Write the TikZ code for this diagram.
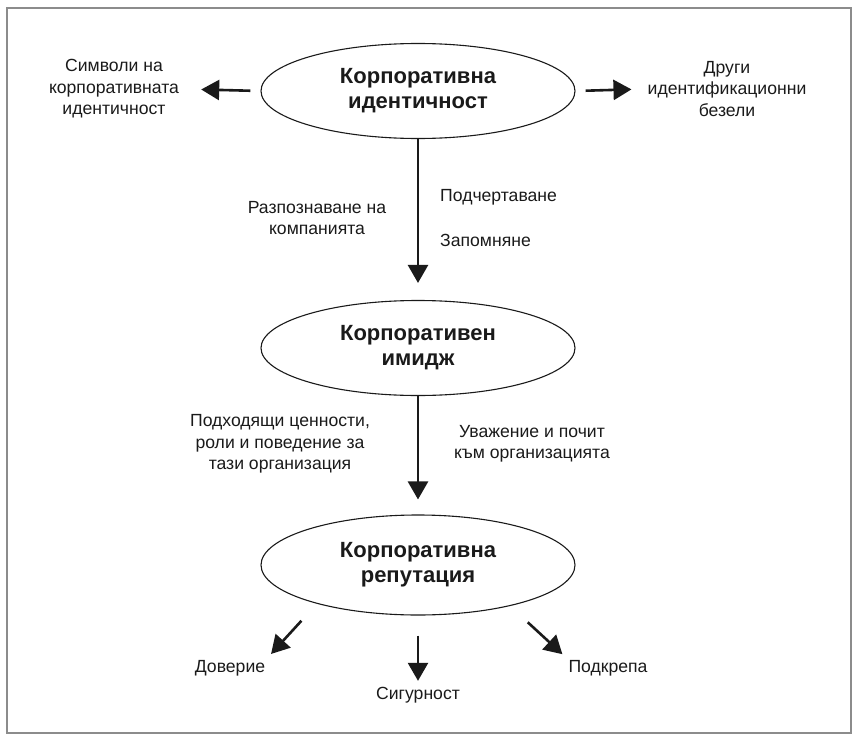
\documentclass[tikz,border=0pt]{standalone}
\usepackage{fontspec}
\setmainfont{Liberation Sans}
\usetikzlibrary{positioning,arrows.meta,shapes.geometric}
\definecolor{InkBlack}{HTML}{1A1A1A}
\definecolor{FrameGray}{HTML}{8C8C8C}
\tikzset{
  ell/.style={ellipse,draw=InkBlack,line width=1.1pt,minimum width=314pt,
    minimum height=95pt,inner sep=0pt,align=center,
    font=\fontsize{22}{25}\selectfont\bfseries,text=InkBlack},
  lbl/.style={align=center,font=\fontsize{17.6}{21.5}\selectfont,text=InkBlack,inner sep=3pt},
  arr/.style={-{Triangle[length=18pt,width=20pt]},draw=InkBlack,line width=2.6pt},
  frm/.style={draw=FrameGray,line width=1.6pt},
}

\begin{document}
\begin{tikzpicture}[x=1pt,y=-1pt]
\useasboundingbox (0,0) rectangle (854,736);
\draw[frm] (7,8) rectangle (851,733);

% ellipses
\node[ell] (ident) at (418,91) {Корпоративна\\идентичност};
\node[ell] (image) at (418,348) {Корпоративен\\имидж};
\node[ell,minimum height=100pt] (reput) at (418,565) {Корпоративна\\репутация};

% side texts
\node[lbl] (symb) at (114,89) {Символи на\\корпоративната\\идентичност};
\node[lbl] (other) at (727,89) {Други\\идентификационни\\безели};
\draw[arr,shorten <=10pt,shorten >=19pt] (ident.west) -- (symb.east);
\draw[arr,shorten <=10pt,shorten >=13pt] (ident.east) -- (other.west);

% identity -> image
\draw[arr,shorten >=17pt] (ident.south) -- (image.north);
\node[lbl] (recog) at (317,218) {Разпознаване на\\компанията};
\node[lbl,anchor=west] (stress) at (437,197) {Подчертаване};
\node[lbl,anchor=west] (memo) at (437,240) {Запомняне};

% image -> reputation
\draw[arr,shorten >=15pt] (image.south) -- (reput.north);
\node[lbl] (values) at (280,444) {Подходящи ценности,\\роли и поведение за\\тази организация};
\node[lbl] (respect) at (532,444) {Уважение и почит\\към организацията};

% outcomes
\node[lbl] (trust) at (230,668) {Доверие};
\node[lbl] (secur) at (418,695) {Сигурност};
\node[lbl] (support) at (608,668) {Подкрепа};
\draw[arr,shorten <=23pt,shorten >=4pt] (reput.201) -- (trust.north east);
\draw[arr,shorten <=20pt,shorten >=3pt] (reput.south) -- (secur.north);
\draw[arr,shorten <=24pt,shorten >=4pt] (reput.336) -- (support.north west);
\end{tikzpicture}
\end{document}
